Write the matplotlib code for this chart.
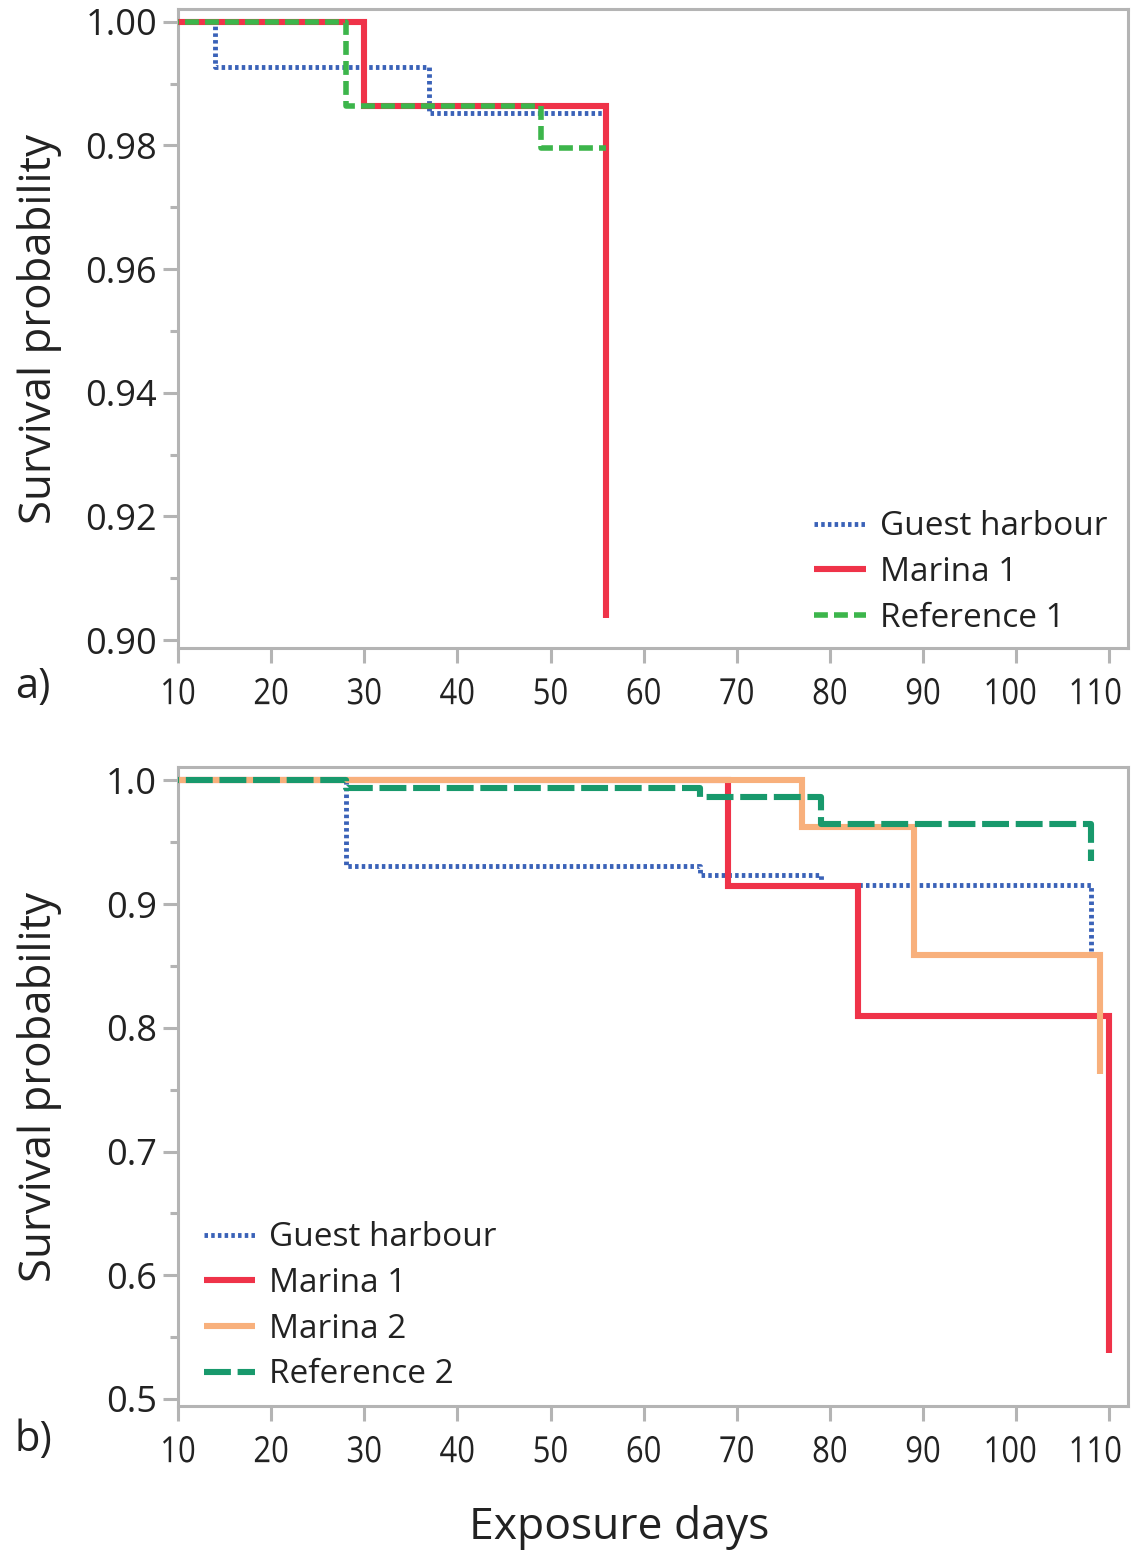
import matplotlib
matplotlib.use("Agg")
import matplotlib.pyplot as plt
from matplotlib.ticker import MultipleLocator, FixedLocator
from matplotlib.patheffects import AbstractPathEffect
from matplotlib.transforms import Affine2D, ScaledTranslation

plt.rcParams['font.family'] = ['Open Sans', 'DejaVu Sans']

# ---------- data (panel a) ----------
gh_a_days = [0, 14, 37, 56]
gh_a_surv = [1.0, 0.9927, 0.9852, 0.9852]
m1_a_days = [0, 30, 56]
m1_a_surv = [1.0, 0.9863, 0.9035]
ref1_days = [0, 28, 49, 56]
ref1_surv = [1.0, 0.9863, 0.9795, 0.9795]

# ---------- data (panel b) ----------
gh_b_days = [0, 28, 66, 79, 108]
gh_b_surv = [1.0, 0.9312, 0.9236, 0.9156, 0.862]
m1_b_days = [0, 69, 83, 110]
m1_b_surv = [1.0, 0.9145, 0.8093, 0.537]
m2_b_days = [0, 77, 89, 109]
m2_b_surv = [1.0, 0.9628, 0.859, 0.763]
ref2_days = [0, 28, 66, 79, 108]
ref2_surv = [1.0, 0.9938, 0.9865, 0.965, 0.935]

x_ticks = [10, 20, 30, 40, 50, 60, 70, 80, 90, 100, 110]
ya_ticks = [0.90, 0.92, 0.94, 0.96, 0.98, 1.00]
yb_ticks = [0.5, 0.6, 0.7, 0.8, 0.9, 1.0]

C_BLUE = '#3a62b8'
C_RED = '#ef3349'
C_GREEN1 = '#3cb54b'
C_ORANGE = '#f8b07c'
C_GREEN2 = '#18996c'
GRAY = '#b4b4b4'
TXT = '#222222'


class HSqueeze(AbstractPathEffect):
    """Narrow the glyphs horizontally about their centre (closer to the reference font)."""
    def __init__(self, sx=0.88):
        super().__init__()
        self.sx = sx

    def draw_path(self, renderer, gc, tpath, affine, rgbFace=None):
        ext = tpath.get_extents()
        cx = 0.5 * (ext.x0 + ext.x1)
        t = Affine2D().translate(-cx, 0).scale(self.sx, 1).translate(cx, 0) + affine
        renderer.draw_path(gc, tpath, t, rgbFace)


W, H = 1137, 1553
fig = plt.figure(figsize=(W / 100, H / 100), dpi=100)

def ax_rect(l, t, r, b):
    return [l / W, 1 - b / H, (r - l) / W, (b - t) / H]

ax1 = fig.add_axes(ax_rect(178, 9, 1128, 648))
ax2 = fig.add_axes(ax_rect(178, 767, 1128, 1406))

FS = 26
# small horizontal nudges (px) of wide labels, as in the reference typeface
label_nudge = {'100': -6, '110': -14}

def style(ax, yticks, fmt, minor):
    ax.set_xlim(10, 112)
    ax.xaxis.set_major_locator(FixedLocator(x_ticks))
    ax.set_xticklabels([str(v) for v in x_ticks])
    ax.yaxis.set_major_locator(FixedLocator(yticks))
    ax.yaxis.set_minor_locator(MultipleLocator(minor))
    ax.set_yticklabels([fmt.format(v) for v in yticks])
    for s in ax.spines.values():
        s.set_color(GRAY)
        s.set_linewidth(2.2)
    ax.tick_params(axis='both', which='major', length=11, width=2.2, color=GRAY,
                   labelsize=FS, labelcolor=TXT)
    ax.tick_params(axis='x', pad=10)
    ax.tick_params(axis='y', pad=4)
    ax.tick_params(axis='y', which='minor', length=5.5, width=2.2, color=GRAY)
    ax.tick_params(axis='x', which='minor', length=0)
    for lbl in ax.get_xticklabels():
        lbl.set_path_effects([HSqueeze(0.86)])
        dx = label_nudge.get(lbl.get_text(), 0)
        if dx:
            lbl.set_transform(lbl.get_transform() +
                              ScaledTranslation(dx / 100, 0, fig.dpi_scale_trans))
    ax.set_ylabel('Survival probability', fontsize=31.5, color=TXT)

BLUE_LS = (0, (0.72, 0.66))
BLUE_LW = 3.5

# panel a
ax1.step(gh_a_days, gh_a_surv, where='post', color=C_BLUE, lw=BLUE_LW,
         linestyle=BLUE_LS, dash_capstyle='butt', label='Guest harbour', zorder=2)
ax1.step(m1_a_days, m1_a_surv, where='post', color=C_RED, lw=4.4,
         solid_joinstyle='miter', solid_capstyle='butt', label='Marina 1', zorder=3)
ax1.step(ref1_days, ref1_surv, where='post', color=C_GREEN1, lw=4.0,
         linestyle=(0, (2.5, 1.1)), dash_capstyle='butt', label='Reference 1', zorder=4)
ax1.set_ylim(0.89871, 1.00205)
style(ax1, ya_ticks, '{:.2f}', 0.01)

# panel b
ax2.step(gh_b_days, gh_b_surv, where='post', color=C_BLUE, lw=BLUE_LW,
         linestyle=BLUE_LS, dash_capstyle='butt', label='Guest harbour', zorder=2)
ax2.step(m1_b_days, m1_b_surv, where='post', color=C_RED, lw=4.4,
         solid_joinstyle='miter', solid_capstyle='butt', label='Marina 1', zorder=3)
ax2.step(m2_b_days, m2_b_surv, where='post', color=C_ORANGE, lw=4.4,
         solid_joinstyle='miter', solid_capstyle='butt', label='Marina 2', zorder=4)
ax2.step(ref2_days, ref2_surv, where='post', color=C_GREEN2, lw=4.4,
         linestyle=(0, (4.4, 1.1)), dash_capstyle='butt', label='Reference 2', zorder=5)
ax2.set_ylim(0.49434, 1.0109)
style(ax2, yb_ticks, '{:.1f}', 0.05)

for ax in (ax1, ax2):
    ax.yaxis.set_label_coords(-0.122, 0.5)

leg_kw = dict(frameon=False, fontsize=24, handlelength=1.55, handletextpad=0.42,
              labelspacing=0.38, borderpad=0, borderaxespad=0, labelcolor=TXT)
ax1.legend(loc='lower right', bbox_to_anchor=(0.978, 0.021), **leg_kw)
ax2.legend(loc='lower left', bbox_to_anchor=(0.027, 0.023), **leg_kw)

fig.text(15 / W, 1 - 687 / H, 'a)', fontsize=30, color=TXT, va='center', ha='left')
fig.text(15 / W, 1 - 1440 / H, 'b)', fontsize=30, color=TXT, va='center', ha='left')
fig.text(619 / W, 1 - 1527 / H, 'Exposure days', fontsize=32, color=TXT,
         va='center', ha='center')

fig.savefig('out.png', dpi=100)
